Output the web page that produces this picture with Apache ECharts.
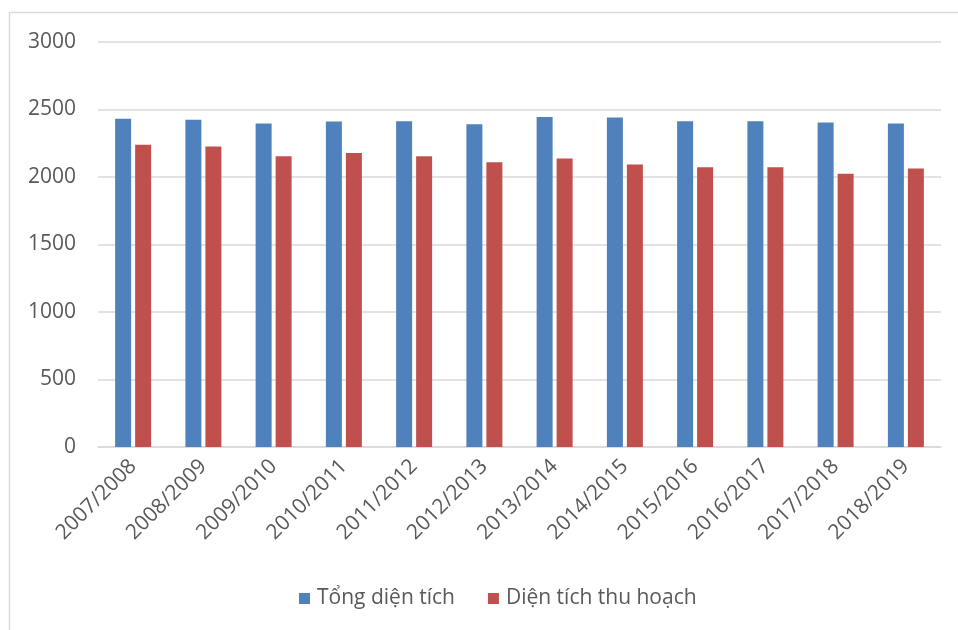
<!DOCTYPE html>
<html>
<head>
<meta charset="utf-8">
<script src="https://cdn.jsdelivr.net/npm/echarts@6/dist/echarts.min.js"></script>
<style>
  html, body { margin: 0; padding: 0; background: #fff; }
  #chart { width: 958px; height: 630px; }
</style>
</head>
<body>
<div id="chart"></div>
<script>
// Crop seasons
const seasons = ['2007/2008', '2008/2009', '2009/2010', '2010/2011', '2011/2012', '2012/2013',
                 '2013/2014', '2014/2015', '2015/2016', '2016/2017', '2017/2018', '2018/2019'];
// Total planted area
const tongDienTich = [2431, 2424, 2397, 2411, 2413, 2391, 2445, 2440, 2413, 2413, 2403, 2397];
// Harvested area
const dienTichThuHoach = [2239, 2226, 2154, 2178, 2154, 2110, 2137, 2093, 2073, 2073, 2024, 2063];
// Value axis ticks
const yTicks = [0, 500, 1000, 1500, 2000, 2500, 3000];

const FONT = '"Open Sans", Lato, sans-serif';
const chart = echarts.init(document.getElementById('chart'));
chart.setOption({
  animation: false,
  textStyle: { fontFamily: FONT },
  graphic: [{
    type: 'polyline',
    shape: { points: [[9.5, 640], [9.5, 12.5], [960, 12.5]] },
    style: { fill: null, stroke: '#d9d9d9', lineWidth: 1.5 },
    silent: true
  }],
  grid: { left: 98, right: 17, top: 42, bottom: 183 },
  legend: {
    bottom: 16,
    left: 294,
    itemWidth: 11, itemHeight: 11, itemGap: 33,
    icon: 'rect',
    textStyle: { fontSize: 21, color: '#595959', fontFamily: FONT, padding: [0, 0, 0, 2] }
  },
  xAxis: {
    type: 'category',
    data: seasons,
    axisLine: { lineStyle: { color: '#d9d9d9', width: 1.5 } },
    axisTick: { show: false },
    axisLabel: { rotate: 45, fontSize: 21, color: '#595959', margin: 16, interval: 0 }
  },
  yAxis: {
    type: 'value',
    min: yTicks[0], max: yTicks[yTicks.length - 1], interval: 500,
    axisLine: { show: false },
    axisTick: { show: false },
    splitLine: { lineStyle: { color: '#d9d9d9', width: 1.5 } },
    axisLabel: { fontSize: 21, color: '#595959', margin: 22, formatter: v => String(v) }
  },
  series: [
    {
      name: 'Tổng diện tích', type: 'bar', data: tongDienTich,
      barWidth: 16, barGap: '25%',
      itemStyle: { color: '#4f81bd' }
    },
    {
      name: 'Diện tích thu hoạch', type: 'bar', data: dienTichThuHoach,
      barWidth: 16, barGap: '25%',
      itemStyle: { color: '#c0504d' }
    }
  ]
});
</script>
</body>
</html>
